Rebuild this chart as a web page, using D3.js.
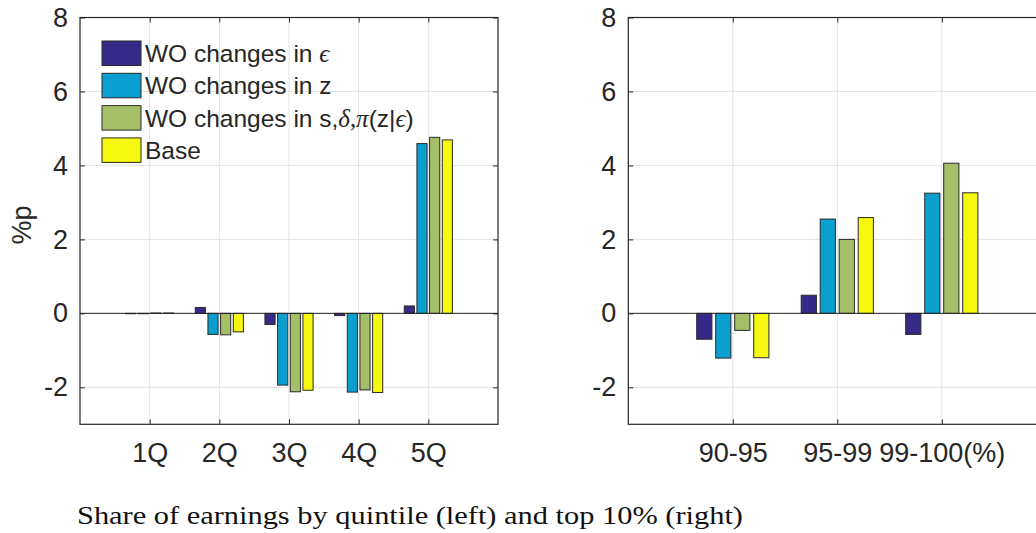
<!DOCTYPE html>
<html>
<head>
<meta charset="utf-8">
<script src="https://cdn.jsdelivr.net/npm/d3@7"></script>
<style>
  html, body { margin: 0; padding: 0; background: #fff; }
  svg { display: block; }
  text { font-family: "Liberation Sans", Arial, Helvetica, sans-serif; fill: #262626; }
</style>
</head>
<body>
<svg id="chart" width="1036" height="533"></svg>
<script>
// Series names (legend order) and bar colours
const seriesNames = ["WO changes in eps", "WO changes in z", "WO changes in s,delta,pi", "Base"];
const seriesColors = ["#352a87", "#0a9fcf", "#a5bf68", "#f6f80f"];

// Left panel: change in share of earnings by quintile (%p)
const quintiles = ["1Q", "2Q", "3Q", "4Q", "5Q"];
const qWoEps   = [-0.01, 0.16, -0.30, -0.06, 0.20];
const qWoZ     = [-0.01, -0.57, -1.94, -2.13, 4.59];
const qWoSDP   = [0.01, -0.58, -2.12, -2.07, 4.76];
const qBase    = [0.01, -0.50, -2.08, -2.14, 4.69];

// Right panel: change in share of earnings within the top 10% (%p)
const topGroups = ["90-95", "95-99", "99-100(%)"];
const tWoEps   = [-0.70, 0.49, -0.57];
const tWoZ     = [-1.21, 2.55, 3.25];
const tWoSDP   = [-0.46, 2.00, 4.06];
const tBase    = [-1.20, 2.59, 3.26];

const yTicks = [-2, 0, 2, 4, 6, 8];
const captionText = "Share of earnings by quintile (left) and top 10% (right)";

const svg = d3.select("#chart");

const plotTop = 17.5, plotBottom = 424.3;
const y = d3.scaleLinear().domain([-3, 8]).range([plotBottom, plotTop]);
const tickFont = 27;

// grouped-bar geometry (in x-data units)
const nSeries = 4;
const groupWidth = Math.min(0.8, nSeries / (nSeries + 1.5));
const slot = groupWidth / nSeries;
const barW = slot * 0.8;

function panel(x0, x1, xMax, cats, seriesArrays, clipId) {
  const x = d3.scaleLinear().domain([0, xMax]).range([x0, x1]);
  const g = svg.append("g");

  // clip to the plotting area
  svg.append("clipPath").attr("id", clipId)
    .append("rect").attr("x", x0).attr("y", plotTop).attr("width", x1 - x0).attr("height", plotBottom - plotTop);

  const xt = cats.map((_, i) => i + 1);

  // grid
  const grid = g.append("g").attr("clip-path", `url(#${clipId})`);
  grid.selectAll("line.gx").data(xt).join("line")
    .attr("x1", d => x(d)).attr("x2", d => x(d))
    .attr("y1", plotTop).attr("y2", plotBottom)
    .attr("stroke", "#e3e3e3").attr("stroke-width", 1);
  grid.selectAll("line.gy").data(yTicks).join("line")
    .attr("x1", x0).attr("x2", x1)
    .attr("y1", d => y(d)).attr("y2", d => y(d))
    .attr("stroke", "#e3e3e3").attr("stroke-width", 1);

  // bars
  const bars = g.append("g");
  seriesArrays.forEach((vals, s) => {
    const off = (s - (nSeries - 1) / 2) * slot;
    bars.selectAll(null).data(vals).join("rect")
      .attr("x", (d, i) => x(i + 1 + off - barW / 2))
      .attr("width", (d, i) => x(i + 1 + off + barW / 2) - x(i + 1 + off - barW / 2))
      .attr("y", d => Math.min(y(d), y(0)))
      .attr("height", d => Math.abs(y(d) - y(0)))
      .attr("fill", seriesColors[s])
      .attr("stroke", "#2a2a2a")
      .attr("stroke-width", 1);
  });

  // baseline at zero
  g.append("line")
    .attr("x1", x0).attr("x2", x1)
    .attr("y1", y(0)).attr("y2", y(0))
    .attr("stroke", "#262626").attr("stroke-width", 1);

  // axes (box with inward ticks)
  const ax = g.append("g");
  const yAxisL = d3.axisLeft(y).tickValues(yTicks).tickSize(-5).tickPadding(12).tickFormat(d3.format("d"));
  const ga = ax.append("g").attr("transform", `translate(${x0},0)`).call(yAxisL);
  ga.select(".domain").remove();
  ga.selectAll("text").attr("font-size", tickFont).attr("fill", "#262626")
    .text(d => (d < 0 ? "-" + Math.abs(d) : d));
  ga.selectAll("line").attr("stroke", "#262626");

  const gr = ax.append("g").attr("transform", `translate(${x1},0)`)
    .call(d3.axisRight(y).tickValues(yTicks).tickSize(-5).tickFormat(""));
  gr.select(".domain").remove();
  gr.selectAll("line").attr("stroke", "#262626");

  const xAxisB = d3.axisBottom(x).tickValues(xt).tickSize(-5).tickPadding(19).tickFormat((d, i) => cats[i]);
  const gb = ax.append("g").attr("transform", `translate(0,${plotBottom})`).call(xAxisB);
  gb.select(".domain").remove();
  gb.selectAll("text").attr("font-size", tickFont).attr("fill", "#262626");
  gb.selectAll("line").attr("stroke", "#262626");

  const gt = ax.append("g").attr("transform", `translate(0,${plotTop})`)
    .call(d3.axisTop(x).tickValues(xt).tickSize(-5).tickFormat(""));
  gt.select(".domain").remove();
  gt.selectAll("line").attr("stroke", "#262626");

  ax.append("rect").attr("x", x0).attr("y", plotTop).attr("width", x1 - x0).attr("height", plotBottom - plotTop)
    .attr("fill", "none").attr("stroke", "#262626").attr("stroke-width", 1.2);

  return x;
}

panel(80, 498, 6, quintiles, [qWoEps, qWoZ, qWoSDP, qBase], "clipL");
panel(628.3, 1046.3, 4, topGroups, [tWoEps, tWoZ, tWoSDP, tBase], "clipR");

// y-axis label
svg.append("text")
  .attr("transform", `translate(31,${(plotTop + plotBottom) / 2 + 4}) rotate(-90)`)
  .attr("text-anchor", "middle")
  .attr("font-size", tickFont)
  .text("%p");

// legend
const legend = svg.append("g").attr("transform", "translate(102,41)");
const rowGap = 32.3;
const mathFont = "'Liberation Serif', 'DejaVu Serif', serif";
const labelParts = [
  [["WO changes in ", null], ["\u03F5", "m"]],
  [["WO changes in z", null]],
  [["WO changes in s,", null], ["\u03B4", "m"], [",", "r"], ["\u03C0", "m"], ["(z|", null], ["\u03F5", "m"], [")", null]],
  [["Base", null]]
];
seriesNames.forEach((name, i) => {
  const row = legend.append("g").attr("transform", `translate(0,${i * rowGap})`);
  row.append("rect").attr("x", 0).attr("y", 0).attr("width", 39).attr("height", 24.5)
    .attr("fill", seriesColors[i]).attr("stroke", "#2a2a2a").attr("stroke-width", 1);
  const t = row.append("text").attr("x", 43).attr("y", 12.5).attr("dy", "0.35em")
    .attr("font-size", 24.5).attr("fill", "#111");
  labelParts[i].forEach(([s, kind]) => {
    const sp = t.append("tspan").text(s);
    if (kind === "m") sp.style("font-family", mathFont).style("font-style", "italic").attr("font-size", 25);
    if (kind === "r") sp.style("font-family", mathFont);
  });
});

// caption
svg.append("text")
  .attr("x", 77).attr("y", 524)
  .style("font-family", "'Liberation Serif', 'DejaVu Serif', serif")
  .attr("font-size", 25)
  .style("fill", "#111")
  .attr("textLength", 666)
  .attr("lengthAdjust", "spacingAndGlyphs")
  .text(captionText);
</script>
</body>
</html>
